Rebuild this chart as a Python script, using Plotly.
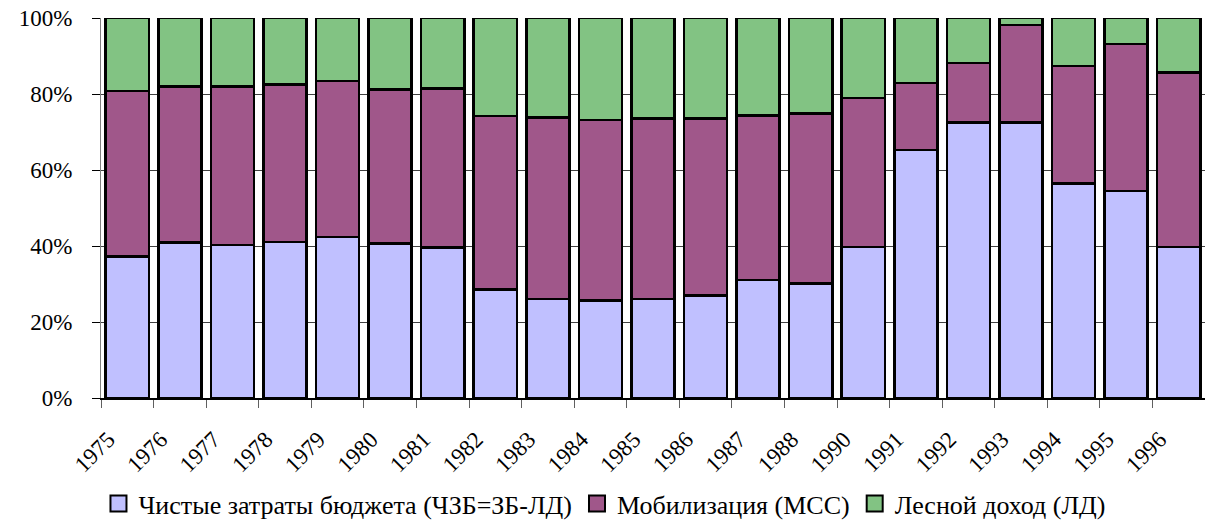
import plotly.graph_objects as go

years = ["1975", "1976", "1977", "1978", "1979", "1980", "1981", "1982", "1983", "1984",
         "1985", "1986", "1987", "1988", "1990", "1991", "1992", "1993", "1994", "1995", "1996"]

net_budget = [37.2, 40.9, 40.2, 41.1, 42.4, 40.6, 39.6, 28.6, 26.1, 25.7,
              26.1, 27.0, 31.0, 30.1, 39.8, 65.2, 72.5, 72.5, 56.4, 54.5, 39.8]
mobilization = [43.6, 41.1, 41.8, 41.4, 41.0, 40.6, 41.9, 45.6, 47.7, 47.4,
                47.5, 46.6, 43.3, 44.8, 39.1, 17.7, 15.7, 25.7, 31.0, 38.6, 45.8]
forest_income = [19.2, 18.0, 18.0, 17.5, 16.6, 18.8, 18.5, 25.8, 26.2, 26.9,
                 26.4, 26.4, 25.7, 25.1, 21.1, 17.1, 11.8, 1.8, 12.6, 6.9, 14.4]

names = ["Чистые затраты бюджета (ЧЗБ=ЗБ-ЛД)", "Мобилизация (МСС)", "Лесной доход (ЛД)"]
colors = ["#C0C0FF", "#A0578A", "#82C383"]

FONT = "Liberation Serif, DejaVu Serif, serif"

fig = go.Figure()
for name, vals, col in zip(names, [net_budget, mobilization, forest_income], colors):
    fig.add_trace(go.Bar(
        x=years, y=vals, name=name, showlegend=False,
        marker=dict(color=col, line=dict(color="black", width=2.5)),
    ))
# legend proxies with larger square swatches
for name, col in zip(names, colors):
    fig.add_trace(go.Scatter(
        x=[None], y=[None], name=name, mode="markers",
        marker=dict(symbol="square", size=16, color=col, line=dict(color="black", width=2)),
    ))

fig.update_layout(
    barmode="stack",
    barnorm="percent",
    bargap=0.18,
    width=1205, height=514,
    margin=dict(l=93, r=8, t=10, b=124, autoexpand=False),
    paper_bgcolor="white", plot_bgcolor="white",
    font=dict(family=FONT, color="black", size=23),
    showlegend=True,
    legend=dict(
        orientation="h", xref="container", yref="container",
        x=0.495, xanchor="center", y=0.036, yanchor="middle",
        font=dict(size=26, family=FONT, color="black"),
        traceorder="normal", itemwidth=30, itemsizing="trace",
    ),
)
fig.update_yaxes(
    range=[0, 100], dtick=20, ticksuffix="%",
    showline=True, linecolor="#808080", linewidth=1,
    ticks="outside", ticklen=8, tickcolor="black",
    showgrid=True, gridcolor="#404040", gridwidth=1,
    zeroline=False, ticklabelstandoff=15, automargin=False, ticklabeloverflow="allow",
    tickfont=dict(size=23, family=FONT),
)
fig.update_xaxes(
    type="category", tickangle=-45,
    showline=True, linecolor="black", linewidth=2,
    ticks="outside", tickson="boundaries", ticklen=8, tickcolor="#606060",
    showgrid=False, ticklabelstandoff=17, ticklabelshift=-19, automargin=False, ticklabeloverflow="allow",
    tickfont=dict(size=23, family=FONT),
)

fig.write_html("out.html")
